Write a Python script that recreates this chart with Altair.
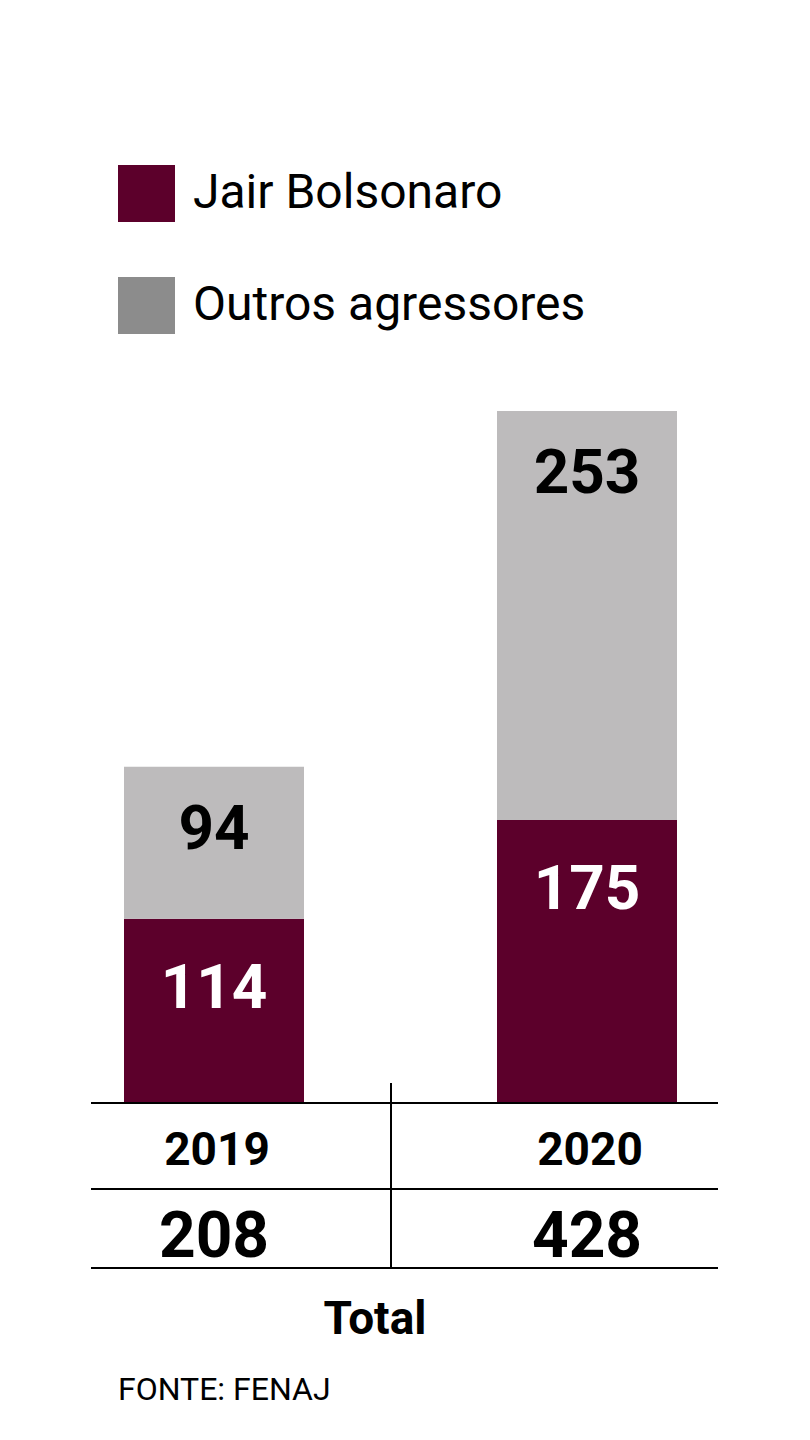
import altair as alt
import pandas as pd

# ---- data ----
years = ["2019", "2020"]
series = ["Jair Bolsonaro", "Outros agressores"]
bolsonaro = [114, 175]
outros = [94, 253]
totals = [208, 428]
total_label = "Total"
source_label = "FONTE: FENAJ"

MAROON = "#5c002b"
LIGHT = "#bdbbbc"
LEGEND_GRAY = "#8c8c8c"
FONT = "Roboto"

rows = []
for i, yr in enumerate(years):
    base = 0
    for k, (s, vals) in enumerate(zip(series, [bolsonaro, outros])):
        v = vals[i]
        rows.append(dict(year=yr, series=s, value=v, start=base, end=base + v, order=k))
        base += v
df = pd.DataFrame(rows)
tot = pd.DataFrame({"year": years, "total": totals})
one = pd.DataFrame({"a": [0]})

xenc = alt.X("year:N", scale=alt.Scale(type="point", domain=years, range=[214, 587], padding=0), axis=None)
yscale = alt.Scale(domain=[0, 428], range=[1103, 411], nice=False, zero=True)

bars = alt.Chart(df).mark_bar(size=180).encode(
    x=xenc,
    y=alt.Y("start:Q", scale=yscale, axis=None),
    y2="end:Q",
    color=alt.Color("series:N", scale=alt.Scale(domain=series, range=[MAROON, LIGHT]), legend=None),
)

legend_layer = alt.Chart(df).mark_square(opacity=0, size=10).encode(
    x=xenc,
    y=alt.Y("end:Q", scale=yscale, axis=None),
    color=alt.Color(
        "series:N",
        scale=alt.Scale(domain=series, range=[MAROON, LEGEND_GRAY]),
        legend=alt.Legend(
            title=None, orient="none", legendX=118, legendY=165,
            symbolType="square", symbolSize=3249, symbolOpacity=1, symbolStrokeWidth=0,
            labelFont=FONT, labelFontSize=48, labelColor="black", labelOffset=18,
            rowPadding=55, labelLimit=700, padding=0,
        ),
    ),
)

text_m = alt.Chart(df).transform_filter(alt.datum.series == series[0]).mark_text(
    font=FONT, fontWeight="bold", fontSize=62, dy=89, baseline="alphabetic", color="white"
).encode(x=xenc, y=alt.Y("end:Q", scale=yscale, axis=None), text="value:Q")

text_g = alt.Chart(df).transform_filter(alt.datum.series == series[1]).mark_text(
    font=FONT, fontWeight="bold", fontSize=62, dy=82, baseline="alphabetic", color="black"
).encode(x=xenc, y=alt.Y("end:Q", scale=yscale, axis=None), text="value:Q")

year_text = alt.Chart(tot).mark_text(
    font=FONT, fontWeight="bold", fontSize=46, color="black", dx=3, baseline="alphabetic"
).encode(x=xenc, y=alt.value(1165), text="year:N")

total_text = alt.Chart(tot).mark_text(
    font=FONT, fontWeight="bold", fontSize=64, color="black", baseline="alphabetic"
).encode(x=xenc, y=alt.value(1257), text="total:Q")

base_rule = alt.Chart(one).mark_rule(color="black", strokeWidth=2).encode(
    y=alt.Y(datum=0, scale=yscale), x=alt.value(91), x2=alt.value(718)
)
rule2 = alt.Chart(one).mark_rule(color="black", strokeWidth=2).encode(
    y=alt.value(1189), x=alt.value(91), x2=alt.value(718)
)
rule3 = alt.Chart(one).mark_rule(color="black", strokeWidth=2).encode(
    y=alt.value(1268), x=alt.value(91), x2=alt.value(718)
)
vrule = alt.Chart(one).mark_rule(color="black", strokeWidth=2).encode(
    x=alt.value(391), y=alt.value(1083), y2=alt.value(1268)
)

total_title = alt.Chart(one).mark_text(
    font=FONT, fontWeight="bold", fontSize=46, color="black", align="center", baseline="alphabetic"
).encode(x=alt.value(375), y=alt.value(1334), text=alt.value(total_label))

source_text = alt.Chart(one).mark_text(
    font=FONT, fontSize=32, color="black", align="left", baseline="alphabetic"
).encode(x=alt.value(118), y=alt.value(1400), text=alt.value(source_label))

chart = alt.layer(
    legend_layer, bars, text_m, text_g, base_rule, rule2, rule3, vrule,
    year_text, total_text, total_title, source_text,
).resolve_scale(color="independent").properties(
    width=810, height=1440, autosize="none", padding=0, background="white"
).configure_view(stroke=None)

chart.save("out.html", embed_options={"renderer": "svg", "actions": False})
